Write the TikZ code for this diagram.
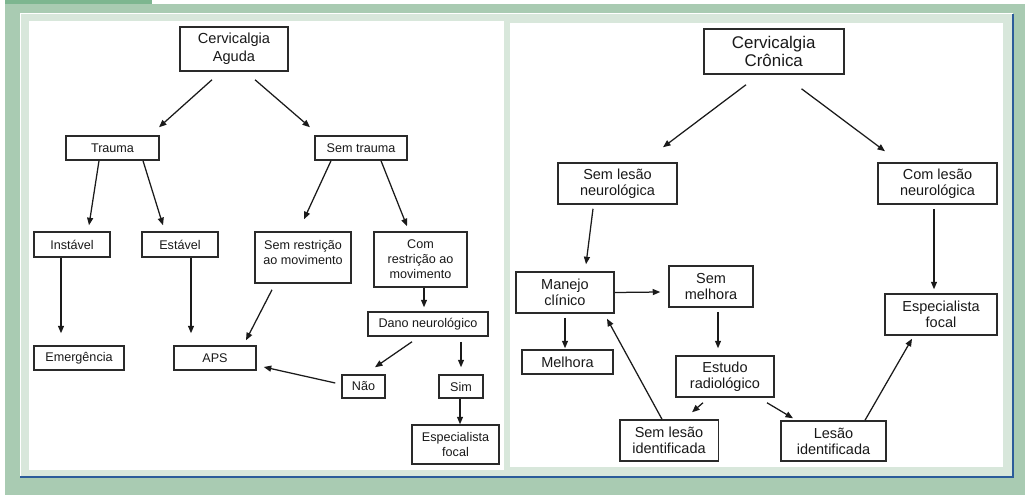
\documentclass[tikz,border=0pt]{standalone}
\usepackage{fontspec}
\setmainfont{Liberation Sans}
\usetikzlibrary{arrows.meta}
\definecolor{bgG}{HTML}{A9CBB2}
\definecolor{barG}{HTML}{7DB690}
\definecolor{panelG}{HTML}{D8E7DB}
\definecolor{lineB}{HTML}{2C5C9A}
\definecolor{boxc}{HTML}{2A2A2A}
\definecolor{arrc}{HTML}{1A1A1A}
\tikzset{
  box/.style={draw=boxc, line width=1.5pt, inner sep=0pt, align=center, fill=white, text=black!90},
  lb/.style={box, font=\fontsize{12.6}{15}\selectfont},
  lt/.style={box, font=\fontsize{14.6}{17.7}\selectfont},
  rb/.style={box, font=\fontsize{14.5}{16}\selectfont},
  rt/.style={box, font=\fontsize{16.9}{18}\selectfont},
  arr/.style={draw=arrc, line width=1.25pt, -{Triangle[length=7.5pt,width=6pt]}},
}
\begin{document}
\begin{tikzpicture}[x=1pt,y=-1pt]
\useasboundingbox (0,0) rectangle (1027,495);
% background
\fill[white] (0,0) rectangle (1027,495);
\fill[bgG] (5,4) rectangle (1025,495);
\fill[barG] (5,0) rectangle (152,4);
\fill[panelG] (20,14) rectangle (1013,477);
\draw[white, line width=1pt] (20,477) -- (20,14) -- (1013,14);
\draw[lineB, line width=1.3pt] (20,477) -- (1013,477) -- (1013,14);
\fill[white] (29,21) rectangle (504,470);
\fill[white] (510,23) rectangle (1003,467);

% ---------- left: Cervicalgia Aguda ----------
\node[lt, minimum width=108pt, minimum height=44pt] (ca) at (234,49) {Cervicalgia\\Aguda};
\node[lb, minimum width=93pt, minimum height=24pt] (tr) at (112.5,148) {Trauma};
\node[lb, minimum width=92pt, minimum height=24pt] (st) at (361,148) {Sem trauma};
\node[lb, minimum width=76pt, minimum height=25pt] (in) at (72,244.5) {Instável};
\node[lb, minimum width=76pt, minimum height=25pt] (es) at (180,244.5) {Estável};
\node[lb, minimum width=96pt, minimum height=51pt,
  label={[font=\fontsize{12.6}{15}\selectfont, align=center, yshift=5pt, text=black!90]center:Sem restrição\\ao movimento}] (sr) at (303,257.5) {};
\node[lb, minimum width=93pt, minimum height=55pt] (cr) at (420.5,259.5) {Com\\restrição ao\\movimento};
\node[lb, minimum width=120pt, minimum height=24pt] (dn) at (428,324) {Dano neurológico};
\node[lb, minimum width=90pt, minimum height=24pt] (em) at (79,358) {Emergência};
\node[lb, minimum width=82pt, minimum height=24pt] (aps) at (215,358) {APS};
\node[lb, minimum width=43pt, minimum height=23pt] (nao) at (363.5,386.5) {Não};
\node[lb, minimum width=44pt, minimum height=23pt] (sim) at (461,386.5) {Sim};
\node[lb, minimum width=87pt, minimum height=39pt] (ef) at (455.5,444.5) {Especialista\\focal};

\draw[arr] ([shift={(-22,8)}]ca.south) -- ([shift={(46.5,-8)}]tr.north);
\draw[arr] ([shift={(21,8)}]ca.south) -- ([shift={(-51,-8)}]st.north);
\draw[arr] ([shift={(-13.5,0)}]tr.south) -- ([shift={(17,-6)}]in.north);
\draw[arr] ([shift={(30.5,0)}]tr.south) -- ([shift={(-17,-6)}]es.north);
\draw[arr] ([shift={(-30,0)}]st.south) -- ([shift={(1,-12)}]sr.north);
\draw[arr] ([shift={(20,0)}]st.south) -- ([shift={(-13.5,-5)}]cr.north);
\draw[arr] ([shift={(-11,0)}]in.south) -- ([shift={(-18,-12)}]em.north);
\draw[arr] ([shift={(11,0)}]es.south) -- ([shift={(-24,-12)}]aps.north);
\draw[arr] ([shift={(-31,6)}]sr.south) -- ([shift={(31,-5)}]aps.north);
\draw[arr] ([shift={(3.5,0)}]cr.south) -- ([shift={(-4,-4)}]dn.north);
\draw[arr] ([shift={(-16,5)}]dn.south) -- ([shift={(11.5,-7)}]nao.north);
\draw[arr] ([shift={(33,5)}]dn.south) -- ([shift={(0,-7)}]sim.north);
\draw[arr] ([shift={(-6,-3.5)}]nao.west) -- ([shift={(7,9)}]aps.east);
\draw[arr] ([shift={(-1,0)}]sim.south) -- ([shift={(4.5,0)}]ef.north);

% ---------- right: Cervicalgia Crônica ----------
\node[rt, minimum width=140pt, minimum height=45pt] (cc) at (773.75,51.5) {Cervicalgia\\Crônica};
\node[rb, minimum width=119pt, minimum height=41pt] (sl) at (617.5,183.5) {Sem lesão\\neurológica};
\node[rb, minimum width=119pt, minimum height=41pt] (cl) at (937.5,183.5) {Com lesão\\neurológica};
\node[rb, minimum width=98pt, minimum height=41pt] (mc) at (565,292.5) {Manejo\\clínico};
\node[rb, minimum width=91pt, minimum height=24pt] (me) at (567.5,362) {Melhora};
\node[rb, minimum width=84pt, minimum height=41pt] (sm) at (711,286.5) {Sem\\melhora};
\node[rb, minimum width=98pt, minimum height=41pt] (er) at (725,376.5) {Estudo\\radiológico};
\node[rb, minimum width=112pt, minimum height=41pt] (ef2) at (941,314.5) {Especialista\\focal};
\node[rb, minimum width=98.5pt, minimum height=41pt] (si) at (669,440.5) {Sem lesão\\identificada};
\node[rb, minimum width=105pt, minimum height=40pt] (li) at (833.5,441) {Lesão\\identificada};

\draw[arr] ([shift={(-27.75,10)}]cc.south) -- ([shift={(45.5,-15)}]sl.north);
\draw[arr] ([shift={(27.75,14)}]cc.south) -- ([shift={(-52.5,-11)}]cl.north);
\draw[arr] ([shift={(-24.5,4)}]sl.south) -- ([shift={(21,-7)}]mc.north);
\draw[arr] ([shift={(-3.5,4)}]cl.south) -- ([shift={(-7,-4)}]ef2.north);
\draw[arr] (mc.east) -- ([shift={(-8,5.5)}]sm.west);
\draw[arr] ([shift={(0,4)}]mc.south) -- ([shift={(-2.5,-1)}]me.north);
\draw[arr] ([shift={(7,4)}]sm.south) -- ([shift={(-7,-7)}]er.north);
\draw[arr] ([shift={(-22,5)}]er.south) -- ([shift={(23,-7)}]si.north);
\draw[arr] ([shift={(42,5)}]er.south) -- ([shift={(-40.5,-2)}]li.north);
\draw[arr] ([shift={(-7,0)}]si.north) -- ([shift={(42,5)}]mc.south);
\draw[arr] ([shift={(31.5,0)}]li.north) -- ([shift={(-29,3)}]ef2.south);
\end{tikzpicture}
\end{document}
